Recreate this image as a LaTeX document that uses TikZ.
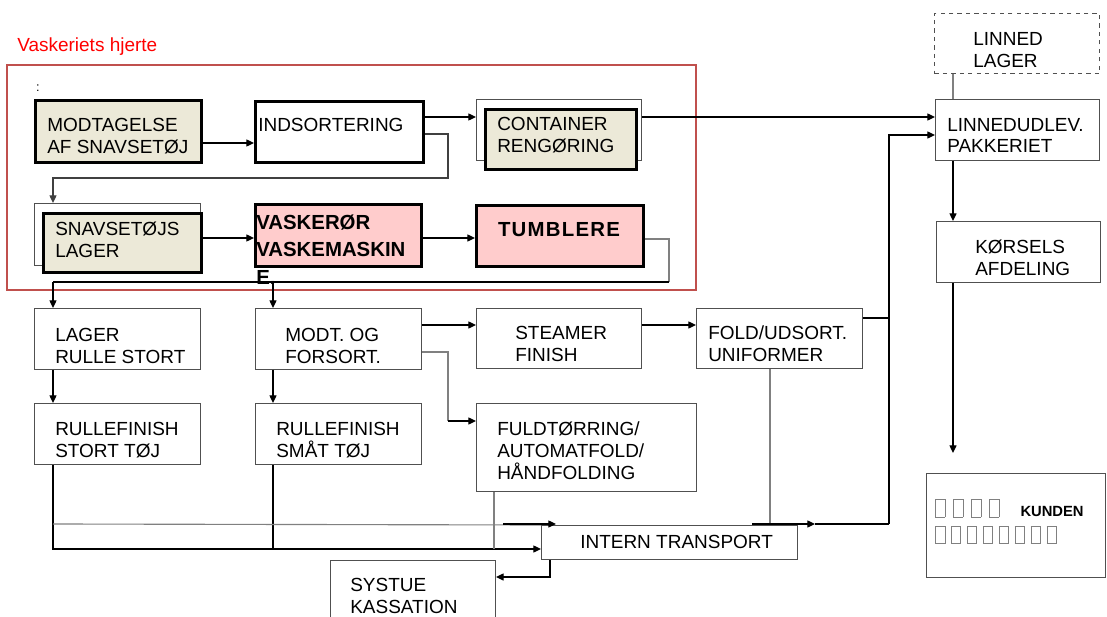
\documentclass[tikz,border=0pt]{standalone}
\usepackage{fontspec}
\setmainfont{Liberation Sans}
\usepackage{tikz}
\usetikzlibrary{arrows.meta}

\definecolor{beige}{RGB}{236,233,216}
\definecolor{lyserod}{RGB}{255,204,204}
\definecolor{rammerod}{RGB}{192,80,77}
\definecolor{graalinje}{RGB}{128,128,128}
\definecolor{kant}{RGB}{80,80,80}

\newcommand{\tofu}{\textcolor{graalinje}{\fboxsep0pt\fboxrule0.6pt\fbox{\rule{0pt}{12pt}\hspace{6pt}}}}

\tikzset{
  wh/.style 2 args={minimum width=#1*0.025cm, minimum height=#2*0.025cm},
  boks/.style={draw=kant, line width=0.7pt, anchor=north west, inner sep=0pt},
  tykboks/.style={draw=black, line width=2.1pt, anchor=north west, inner sep=0pt},
  txt/.style={anchor=west, align=left, inner sep=0pt, font=\fontsize{13.5}{15.6}\selectfont},
  fedtxt/.style={align=left, inner sep=0pt, font=\bfseries\fontsize{14.5}{19.4}\selectfont},
  pil/.style={draw=black, line width=1pt, -{Triangle[length=5.5pt,width=5pt]}},
  linje/.style={draw=black, line width=0.9pt},
  glinje/.style={draw=graalinje, line width=0.8pt},
}

\begin{document}
\begin{tikzpicture}[x=0.025cm, y=-0.025cm]
  \useasboundingbox (0,0) rectangle (1107,617);
  % Vaskeriets hjerte
  \draw[draw=rammerod, line width=0.8pt] (7,65) rectangle (696,290);
  \node[anchor=base west, inner sep=0pt, text=red, font=\fontsize{13.5}{15.6}\selectfont] (titel) at (17,52) {Vaskeriets hjerte};
  \node[inner sep=0pt, font=\small] (kolon) at (38,88) {:};

  % kasser i vaskeriets hjerte
  \node[tykboks, fill=beige, wh={166}{62}] (modt) at (34,99) {};
  \node[tykboks, fill=white, wh={168}{61}] (indsort) at (254,100) {};
  \node[boks, wh={165}{61}] (contyder) at (476,99) {};
  \node[tykboks, fill=beige, wh={151}{60}] (cont) at (484,108) {};
  \node[boks, wh={166}{62}] (snavyder) at (34,203) {};
  \node[tykboks, fill=beige, wh={158}{59}] (snav) at (42,212) {};
  \node[tykboks, fill=lyserod, wh={166}{62}] (vask) at (254,203) {};
  \node[tykboks, fill=lyserod, wh={167}{61}] (tumb) at (475,204) {};

  \node[txt] (modt-t) at (47,136) {MODTAGELSE\\AF SNAVSETØJ};
  \node[txt] (indsort-t) at (258,125) {INDSORTERING};
  \node[txt] (cont-t) at (497,135.5) {CONTAINER\\RENGØRING};
  \node[txt] (snav-t) at (55,240) {SNAVSETØJS\\LAGER};
  \node[fedtxt, anchor=west] (vask-t) at (256,249.5) {VASKERØR\\VASKEMASKIN\\E.};
  \node[fedtxt] (tumb-t) at (559,230) {\addfontfeature{LetterSpace=6}TUMBLERE};

  % kasser efter vask
  \node[boks, wh={166}{61}] (lager) at (34,308) {};
  \node[boks, wh={166}{61}] (forsort) at (255,308) {};
  \node[boks, wh={165}{60}] (steamer) at (476,308) {};
  \node[boks, wh={166}{60}] (fold) at (696,308) {};
  \node[boks, wh={166}{61}] (rulstort) at (34,403) {};
  \node[boks, wh={166}{61}] (rulsmaat) at (255,403) {};
  \node[boks, wh={220}{88}] (fuld) at (476,403) {};
  \node[boks, wh={256}{34}] (intern) at (541,525) {};
  \node[boks, wh={165}{70}] (systue) at (330,560) {};

  \node[txt] (lager-t) at (55,346) {LAGER\\RULLE STORT};
  \node[txt] (forsort-t) at (285,346) {MODT. OG\\FORSORT.};
  \node[txt] (steamer-t) at (515,344) {STEAMER\\FINISH};
  \node[txt] (fold-t) at (708,344) {FOLD/UDSORT.\\UNIFORMER};
  \node[txt] (rulstort-t) at (55,440) {RULLEFINISH\\STORT TØJ};
  \node[txt] (rulsmaat-t) at (276,440) {RULLEFINISH\\SMÅT TØJ};
  \node[txt] (fuld-t) at (497,451) {FULDTØRRING/\\AUTOMATFOLD/\\HÅNDFOLDING};
  \node[txt] (intern-t) at (580,542) {INTERN TRANSPORT};
  \node[txt] (systue-t) at (350,596) {SYSTUE\\KASSATION};

  % udlevering
  \node[boks, dashed, wh={165}{60}] (linlager) at (934,13) {};
  \node[boks, wh={164}{61}] (linnudl) at (935,99) {};
  \node[boks, wh={164}{61}] (korsel) at (936,221) {};
  \node[boks, wh={179}{104}] (kunden) at (926,473) {};
  \coordinate (kunde-ind) at (953,453);

  \node[txt] (linlager-t) at (973,50) {LINNED\\LAGER};
  \node[txt] (linnudl-t) at (947,135.5) {LINNEDUDLEV.\\PAKKERIET};
  \node[txt] (korsel-t) at (975,257.5) {KØRSELS\\AFDELING};
  \node[txt, font=\bfseries\fontsize{10.5}{19}\selectfont] (kunden-t) at (935,521.5)
    {\tofu\hspace{5.6pt}\tofu\hspace{5.6pt}\tofu\hspace{5.6pt}\tofu\hspace{15pt}KUNDEN\\
     \tofu\hspace{4.1pt}\tofu\hspace{4.1pt}\tofu\hspace{4.1pt}\tofu\hspace{4.1pt}\tofu\hspace{4.1pt}\tofu\hspace{4.1pt}\tofu\hspace{4.1pt}\tofu};

  % pile i hjertet
  \draw[pil] (modt.east |- 0,143) -- (indsort.west |- 0,143);
  \draw[pil] (indsort.east |- 0,117) -- (contyder.west |- 0,117);
  \draw[pil] (contyder.east |- 0,117) -- (linnudl.west |- 0,117);
  \draw[pil, draw=darkgray] (indsort.east |- 0,134) -| (448,178) -| (snavyder.north -| 53,0);
  \draw[pil] (snav.east |- 0,238) -- (vask.west |- 0,238);
  \draw[pil] (vask.east |- 0,238) -- (tumb.west |- 0,238);
  \coordinate (fordel) at (669,282);
  \draw[glinje] (tumb.east |- 0,239) -| (fordel);
  \draw[linje] (fordel) -- (53,282);
  \draw[pil] (53,282) -- (lager.north -| 53,0);
  \draw[pil] (273,282) -- (forsort.north -| 273,0);

  % pile efter vask
  \draw[pil] (lager.south -| 53,0) -- (rulstort.north -| 53,0);
  \draw[pil] (forsort.south -| 273,0) -- (rulsmaat.north -| 273,0);
  \draw[pil] (forsort.east |- 0,325) -- (steamer.west |- 0,325);
  \draw[pil] (steamer.east |- 0,325) -- (fold.west |- 0,325);
  \draw[glinje] (forsort.east |- 0,352) -| (448,421);
  \draw[pil] (448,421) -- (fuld.west |- 0,421);

  % intern transport
  \draw[pil] (rulstort.south -| 53,0) |- (intern.west |- 0,549);
  \draw[linje] (rulsmaat.south -| 273,0) -- (273,549);
  \draw[glinje] (fuld.south -| 494,0) -- (494,549);
  \draw[glinje] (53,524) -- (intern.north west);
  \draw[pil] (503,524) -- (556,524);
  \draw[glinje] (fold.south -| 770,0) -- (intern.north -| 770,0);
  \draw[pil] (intern.south -| 550,0) |- (systue.east |- 0,577);
  \coordinate (op) at (889,524);
  \draw[pil] (752,524) -- (815,524);
  \draw[linje] (815,524) -- (op);
  \draw[linje] (fold.east |- 0,318) -- (889,318);
  \draw[pil] (op) |- (linnudl.west |- 0,135);

  % udlevering
  \draw[glinje] (linlager.south -| 953,0) -- (linnudl.north -| 953,0);
  \draw[pil] (linnudl.south -| 953,0) -- (korsel.north -| 953,0);
  \draw[pil] (korsel.south -| 953,0) -- (kunde-ind);
\end{tikzpicture}
\end{document}
